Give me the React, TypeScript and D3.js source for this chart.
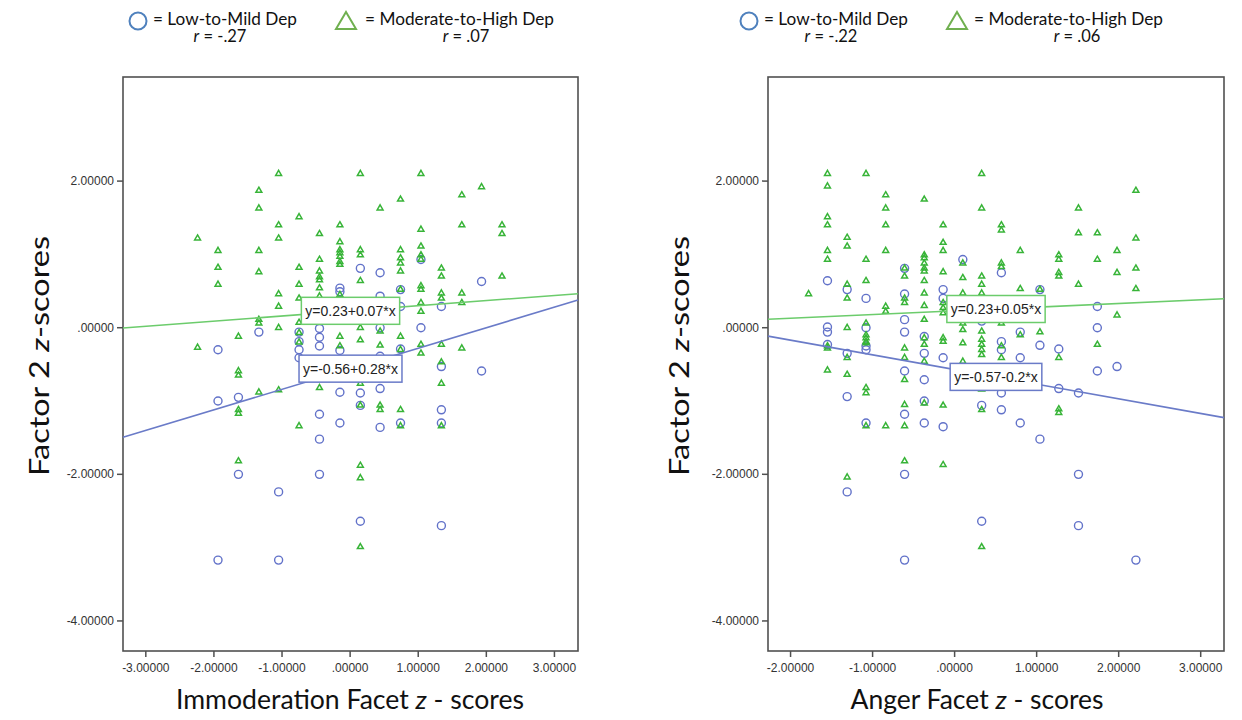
import React from 'react';
import * as d3 from 'd3';

// ---------- DATA ----------
const yTicks = [2, 0, -2, -4];
const yDomain = [-4.41, 3.42];

// Left panel: Immoderation facet
const leftXTicks = [-3, -2, -1, 0, 1, 2, 3];
const leftXDomain = [-3.335, 3.346];
const leftXCols = [-2.24, -1.94, -1.64, -1.34, -1.05, -0.75, -0.45, -0.15, 0.15, 0.44, 0.74, 1.04, 1.34, 1.64, 1.93, 2.23];
const leftLowCols: number[][] = [
  [],
  [-0.30, -1.00, -3.17],
  [-0.95, -2.00],
  [-0.06],
  [-2.24, -3.17],
  [-0.06, -0.19, -0.30, -0.41],
  [-0.01, -0.13, -0.25, -1.18, -1.52, -2.00],
  [0.54, 0.49, -0.31, -0.88, -1.30],
  [0.81, -0.89, -1.06, -2.64],
  [0.75, 0.43, 0.00, -0.39, -0.83, -1.36],
  [0.52, 0.29, -0.29, -1.30],
  [0.93, 0.00],
  [0.29, -0.53, -1.12, -1.30, -2.70],
  [],
  [0.63, -0.59],
  [],
];
const leftModCols: number[][] = [
  [1.22, -0.27],
  [1.05, 0.82, 0.59],
  [-0.12, -0.59, -0.65, -1.12, -1.17, -1.82],
  [1.87, 1.63, 1.05, 0.76, 0.11, 0.06, -0.88],
  [2.10, 1.40, 1.22, 0.46, 0.29, 0.00, -0.85],
  [1.51, 0.82, 0.59, 0.40, 0.07, -0.07, -0.20, -1.34],
  [1.28, 0.93, 0.77, 0.69, 0.65, 0.54, 0.43, -0.82],
  [1.40, 1.17, 1.06, 1.02, 0.97, 0.90, 0.86, 0.45, 0.38, -0.12, -0.25],
  [2.10, 1.06, 0.99, 0.64, 0.00, -0.17, -0.76, -1.06, -1.88, -2.05, -2.99],
  [1.63, -0.05, -0.24, -1.06, -1.12],
  [1.75, 1.06, 0.95, 0.88, 0.77, 0.52, -0.12, -0.30, -1.12, -1.34],
  [2.10, 1.34, 1.11, 0.99, 0.93, 0.57, 0.52, 0.34, 0.22, -0.23, -0.35],
  [0.81, 0.70, 0.47, 0.40, -0.23, -0.47, -0.76, -1.34],
  [1.81, 1.40, 0.47, 0.34, -0.28],
  [1.92],
  [1.40, 1.28, 0.70],
];
const leftLowFit = [-0.56, 0.28];
const leftModFit = [0.23, 0.07];
const leftR = ['-.27', '.07'];

// Right panel: Anger facet
const rightXTicks = [-2, -1, 0, 1, 2, 3];
const rightXDomain = [-2.275, 3.284];
const rightXCols = [-1.78, -1.55, -1.31, -1.08, -0.84, -0.61, -0.37, -0.14, 0.10, 0.33, 0.57, 0.80, 1.04, 1.27, 1.51, 1.74, 1.98, 2.21];
const rightLowCols: number[][] = [
  [],
  [0.64, 0.01, -0.06, -0.23],
  [0.52, -0.35, -0.94, -2.24],
  [0.40, 0.00, -0.25, -0.30, -1.30],
  [],
  [0.81, 0.46, 0.11, -0.06, -0.59, -1.18, -2.00, -3.17],
  [-0.12, -0.35, -0.71, -1.00, -1.30],
  [0.52, 0.40, -0.41, -1.35],
  [0.93],
  [0.09, -1.06, -2.64],
  [0.75, -0.19, -0.30, -0.89, -1.12],
  [-0.06, -0.41, -1.30],
  [0.52, -0.24, -1.52],
  [-0.29, -0.83],
  [-0.89, -2.00, -2.70],
  [0.29, 0.00, -0.59],
  [-0.53],
  [-3.17],
];
const rightModCols: number[][] = [
  [0.46],
  [2.10, 1.93, 1.51, 1.40, 1.05, 0.93, -0.25, -0.28, -0.58],
  [1.23, 1.11, 0.59, 0.40, 0.00, -0.41, -0.64, -2.04],
  [2.10, 0.93, 0.64, 0.06, -0.10, -0.14, -0.19, -0.21, -0.82, -0.89, -1.34],
  [1.81, 1.63, 1.40, 1.05, 0.29, 0.22, -1.34],
  [0.81, 0.70, 0.40, 0.34, -0.28, -0.41, -0.71, -1.05, -1.34, -1.82],
  [1.75, 0.99, 0.95, 0.88, 0.81, 0.77, 0.64, 0.47, 0.30, 0.11, -0.14, -0.23, -0.46, -1.03],
  [1.40, 1.16, 1.05, 0.76, 0.34, 0.27, 0.20, -0.14, -0.19, -1.06, -1.87],
  [0.88, 0.68, 0.47, 0.24, 0.15, 0.06, -0.03, -0.21, -0.46],
  [2.10, 1.63, 0.70, 0.59, 0.47, -0.05, -0.16, -0.23, -0.30, -0.37, -0.84, -1.12, -2.99],
  [1.40, 1.33, 0.88, 0.83, 0.06, -0.25, -0.41],
  [1.05, 0.53, -0.10],
  [0.52, -0.06],
  [0.99, 0.93, 0.75, 0.70, -0.41, -1.11, -1.16],
  [1.63, 1.29, 0.59],
  [1.29, 0.93, -0.23],
  [1.05, 0.75, 0.17],
  [1.87, 1.22, 0.81, 0.53],
];
const rightLowFit = [-0.57, -0.2];
const rightModFit = [0.23, 0.05];
const rightR = ['-.22', '.06'];

const legendLabels = ['= Low-to-Mild Dep', '= Moderate-to-High Dep'];

// ---------- STYLE ----------
const CIRCLE = '#6272c9';
const TRI = '#38b438';
const LINE_LOW = '#6a7bc8';
const LINE_MOD = '#6ccc6c';
const LEG_CIRCLE = '#4f81bd';
const LEG_TRI = '#70b050';
const FRAME = '#505050';
const TICK_FONT = '"Liberation Sans", Arial, sans-serif';
const TITLE_FONT = 'Lato, "Open Sans", sans-serif';

const arialW: Record<string, number> = {
  '0': 0.556, '1': 0.556, '2': 0.556, '3': 0.556, '4': 0.556, '5': 0.556, '6': 0.556, '7': 0.556, '8': 0.556, '9': 0.556,
  '.': 0.278, '=': 0.584, '+': 0.584, '-': 0.333, '*': 0.389, x: 0.5, y: 0.5,
};
const textW = (s: string, fs: number) => s.split('').reduce((a, c) => a + (arialW[c] ?? 0.55), 0) * fs;

const fmtTick = (v: number) => v.toFixed(5).replace(/^(-?)0\./, '$1.');
const fmtNum = (v: number) => v.toFixed(2).replace(/0+$/, '').replace(/\.$/, '');
const fitLabel = (f: number[]) => `y=${fmtNum(f[0])}${f[1] >= 0 ? '+' : ''}${fmtNum(f[1])}*x`;

interface PanelProps {
  left: number; right: number; top: number; bottom: number;
  xDomain: number[]; xTicks: number[]; xCols: number[];
  lowCols: number[][]; modCols: number[][];
  lowFit: number[]; modFit: number[];
  r: string[];
  xTitleA: string; xTitleB: string; xTitleCx: number; xTitleLen: number;
  yTitleX: number;
  leg: { circle: number; text1: number; r1: number; tri: number; text2: number; r2: number };
}

function Panel(p: PanelProps) {
  const x = d3.scaleLinear().domain(p.xDomain).range([p.left, p.right]);
  const y = d3.scaleLinear().domain(yDomain).range([p.bottom, p.top]);
  const low = p.lowCols.flatMap((ys, i) => ys.map((v) => [p.xCols[i], v] as [number, number]));
  const mod = p.modCols.flatMap((ys, i) => ys.map((v) => [p.xCols[i], v] as [number, number]));
  const line = d3.line<[number, number]>().x((d) => x(d[0])).y((d) => y(d[1]));
  const fitPts = (f: number[]) => p.xDomain.map((v) => [v, f[0] + f[1] * v] as [number, number]);
  const tri = d3.symbol(d3.symbolTriangle, 15)() as string;
  const mid = (p.xDomain[0] + p.xDomain[1]) / 2;
  const legTri = `M${p.leg.tri},12 L${p.leg.tri + 10},29 L${p.leg.tri - 10},29 Z`;

  const box = (f: number[], color: string) => {
    const label = fitLabel(f);
    const w = textW(label, 14) + 8;
    const cx = x(mid);
    const cy = y(f[0] + f[1] * mid);
    return (
      <g>
        <rect x={cx - w / 2} y={cy - 13.5} width={w} height={27} fill="white" stroke={color} strokeWidth={1.5} />
        <text x={cx} y={cy + 5} textAnchor="middle" fontFamily={TICK_FONT} fontSize={14} fill="#222">{label}</text>
      </g>
    );
  };

  return (
    <g>
      {/* legend */}
      <circle cx={p.leg.circle} cy={21} r={8.5} fill="none" stroke={LEG_CIRCLE} strokeWidth={2} />
      <text x={p.leg.text1} y={25} fontFamily={TITLE_FONT} fontSize={16.5} fill="#111" textLength={144} lengthAdjust="spacingAndGlyphs">{legendLabels[0]}</text>
      <text x={p.leg.r1} y={42} textAnchor="middle" fontFamily={TITLE_FONT} fontSize={16.5} fill="#111">
        <tspan fontStyle="italic">r</tspan> = {p.r[0]}
      </text>
      <path d={legTri} fill="none" stroke={LEG_TRI} strokeWidth={2} />
      <text x={p.leg.text2} y={25} fontFamily={TITLE_FONT} fontSize={16.5} fill="#111" textLength={189} lengthAdjust="spacingAndGlyphs">{legendLabels[1]}</text>
      <text x={p.leg.r2} y={42} textAnchor="middle" fontFamily={TITLE_FONT} fontSize={16.5} fill="#111">
        <tspan fontStyle="italic">r</tspan> = {p.r[1]}
      </text>

      {/* frame */}
      <rect x={p.left} y={p.top} width={p.right - p.left} height={p.bottom - p.top} fill="white" stroke={FRAME} strokeWidth={1.6} />

      {/* y ticks */}
      {yTicks.map((t) => (
        <g key={'y' + t}>
          <line x1={p.left - 6} x2={p.left} y1={y(t)} y2={y(t)} stroke={FRAME} strokeWidth={1.5} />
          <text x={p.left - 9} y={y(t) + 4} textAnchor="end" fontFamily={TICK_FONT} fontSize={12} fill="#333">{fmtTick(t)}</text>
        </g>
      ))}
      {/* x ticks */}
      {p.xTicks.map((t) => (
        <g key={'x' + t}>
          <line x1={x(t)} x2={x(t)} y1={p.bottom} y2={p.bottom + 6} stroke={FRAME} strokeWidth={1.5} />
          <text x={x(t)} y={p.bottom + 21} textAnchor="middle" fontFamily={TICK_FONT} fontSize={12} fill="#333">{fmtTick(t)}</text>
        </g>
      ))}

      {/* points */}
      {low.map((d, i) => (
        <circle key={'l' + i} cx={x(d[0])} cy={y(d[1])} r={4} fill="none" stroke={CIRCLE} strokeWidth={1.4} />
      ))}
      {mod.map((d, i) => (
        <path key={'m' + i} d={tri} transform={`translate(${x(d[0])},${y(d[1])})`} fill="none" stroke={TRI} strokeWidth={1.5} />
      ))}

      {/* fit lines */}
      <path d={line(fitPts(p.modFit)) as string} fill="none" stroke={LINE_MOD} strokeWidth={1.6} />
      <path d={line(fitPts(p.lowFit)) as string} fill="none" stroke={LINE_LOW} strokeWidth={1.6} />
      {box(p.modFit, LINE_MOD)}
      {box(p.lowFit, LINE_LOW)}

      {/* axis titles */}
      <text x={p.xTitleCx} y={709} textAnchor="middle" fontFamily={TITLE_FONT} fontSize={26} fill="#111" textLength={p.xTitleLen} lengthAdjust="spacingAndGlyphs">
        {p.xTitleA}<tspan fontStyle="italic">z</tspan>{p.xTitleB}
      </text>
      <text transform={`translate(${p.yTitleX},356) rotate(-90)`} textAnchor="middle" fontFamily={TITLE_FONT} fontSize={26} fill="#111" textLength={240} lengthAdjust="spacingAndGlyphs">
        Factor 2 <tspan fontStyle="italic">z</tspan>-scores
      </text>
    </g>
  );
}

export default function App() {
  return (
    <svg width={1242} height={720} viewBox="0 0 1242 720" style={{ position: 'absolute', left: 0, top: 0, background: 'white' }}>
      <rect x={0} y={0} width={1242} height={720} fill="white" />
      <Panel
        left={123} right={578} top={77} bottom={651}
        xDomain={leftXDomain} xTicks={leftXTicks} xCols={leftXCols}
        lowCols={leftLowCols} modCols={leftModCols}
        lowFit={leftLowFit} modFit={leftModFit} r={leftR}
        xTitleA="Immoderation Facet " xTitleB=" - scores" xTitleCx={350} xTitleLen={348}
        yTitleX={49}
        leg={{ circle: 138, text1: 153, r1: 220, tri: 346, text2: 365, r2: 466 }}
      />
      <Panel
        left={768} right={1224} top={77} bottom={651}
        xDomain={rightXDomain} xTicks={rightXTicks} xCols={rightXCols}
        lowCols={rightLowCols} modCols={rightModCols}
        lowFit={rightLowFit} modFit={rightModFit} r={rightR}
        xTitleA="Anger Facet " xTitleB=" - scores" xTitleCx={977} xTitleLen={253}
        yTitleX={689}
        leg={{ circle: 749, text1: 764, r1: 831, tri: 957, text2: 974, r2: 1077 }}
      />
    </svg>
  );
}
